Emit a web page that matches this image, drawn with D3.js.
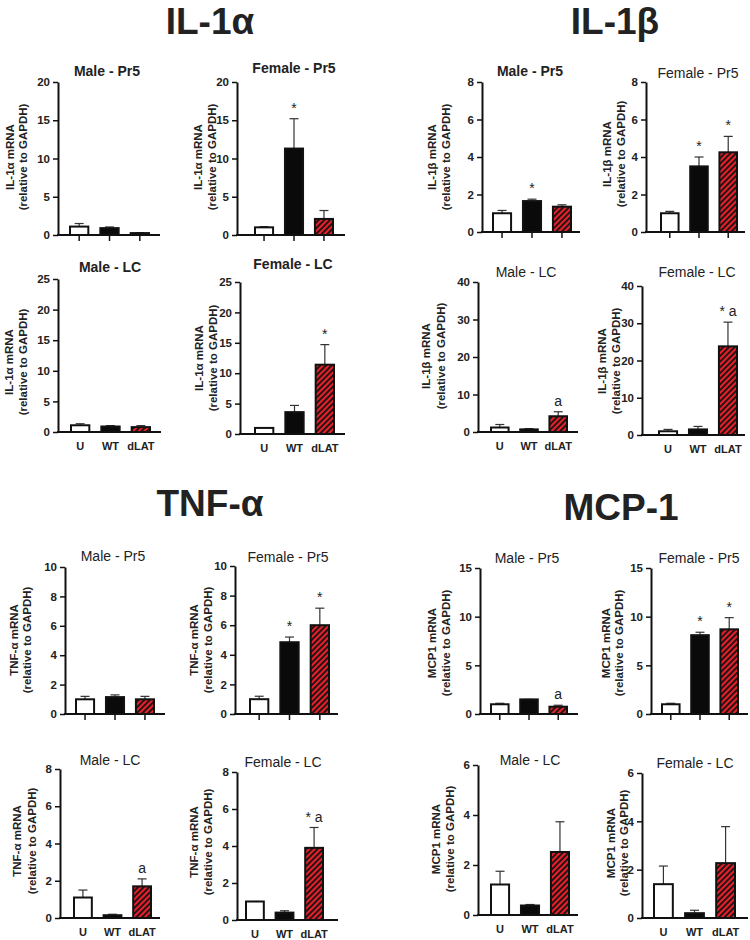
<!DOCTYPE html>
<html><head><meta charset="utf-8">
<script src="https://cdn.jsdelivr.net/npm/d3@7"></script>
<style>
html,body{margin:0;padding:0;background:#fff;}
svg{display:block;font-family:"Liberation Sans",Arial,Helvetica,sans-serif;}
</style></head>
<body>
<svg id="chart" width="750" height="940"></svg>
<script>
// ---------------- DATA ----------------
const groups = ["U", "WT", "dLAT"];
const panelTitles = ["Male - Pr5", "Female - Pr5", "Male - LC", "Female - LC"];
const cytokines = ["IL-1α", "IL-1β", "TNF-α", "MCP-1"];
const yLabels = ["IL-1α mRNA", "IL-1β mRNA", "TNF-α mRNA", "MCP1 mRNA"];
const yLabel2 = "(relative to GAPDH)";

// y-axis maxima and tick steps for each panel (Male-Pr5, Female-Pr5, Male-LC, Female-LC)
const il1aMax = [20, 20, 25, 25], il1aStep = [5, 5, 5, 5];
const il1bMax = [8, 8, 40, 40],   il1bStep = [2, 2, 10, 10];
const tnfMax  = [10, 10, 8, 8],   tnfStep  = [2, 2, 2, 2];
const mcpMax  = [15, 15, 6, 6],   mcpStep  = [5, 5, 2, 2];

// means (U, WT, dLAT) per panel
const il1aMean = [[1.1, 0.9, 0.25], [1.0, 11.3, 2.1], [1.1, 0.9, 0.8], [1.0, 3.6, 11.4]];
const il1bMean = [[1.0, 1.65, 1.35], [1.0, 3.5, 4.25], [1.2, 0.7, 4.2], [1.0, 1.5, 23.8]];
const tnfMean  = [[1.0, 1.15, 1.0], [1.0, 4.85, 6.0], [1.1, 0.15, 1.7], [1.0, 0.4, 3.9]];
const mcpMean  = [[1.0, 1.5, 0.75], [1.0, 8.1, 8.7], [1.22, 0.38, 2.52], [1.4, 0.2, 2.27]];

// top of error bars (mean + SEM)
const il1aErr = [[1.5, 1.05, 0.3], [1.1, 15.2, 3.2], [1.35, 1.05, 1.05], [1.05, 4.7, 14.7]];
const il1bErr = [[1.15, 1.75, 1.45], [1.1, 4.0, 5.1], [2.0, 0.9, 5.4], [1.5, 2.3, 30.3]];
const tnfErr  = [[1.2, 1.3, 1.2], [1.2, 5.2, 7.15], [1.5, 0.2, 2.1], [1.0, 0.5, 5.0]];
const mcpErr  = [[1.1, 1.5, 0.9], [1.1, 8.4, 9.9], [1.75, 0.42, 3.73], [2.15, 0.32, 3.78]];

// significance marks
const il1aMarks = [["", "", ""], ["", "*", ""], ["", "", ""], ["", "", "*"]];
const il1bMarks = [["", "*", ""], ["", "*", "*"], ["", "", "a"], ["", "", "* a"]];
const tnfMarks  = [["", "", ""], ["", "*", "*"], ["", "", "a"], ["", "", "* a"]];
const mcpMarks  = [["", "", "a"], ["", "*", "*"], ["", "", ""], ["", "", ""]];

// ---------------- LAYOUT ----------------
const headPos = [[210, 34], [615, 34], [210, 516], [621, 520]];
// ax: y-axis x, xe: x-axis end, bl/br: bars extent, y0/yt: y range, tx/ty: title, l1/l2/lc: y-label
const layout = [
  [{ax:58,xe:160,bl:69,br:150,y0:235,yt:82,tx:107,ty:76,l1:10,l2:23,lc:157,b:true},
   {ax:237,xe:345,bl:254,br:334,y0:235,yt:82,tx:294,ty:73,l1:198,l2:212,lc:157,b:true},
   {ax:58,xe:161,bl:70,br:151,y0:432,yt:279,tx:110,ty:272,l1:9,l2:23,lc:362,b:true},
   {ax:240,xe:345,bl:254,br:335,y0:434,yt:282,tx:293,ty:269,l1:199,l2:213,lc:358,b:true}],
  [{ax:482,xe:580,bl:492,br:572,y0:232,yt:82,tx:530,ty:76,l1:432,l2:446,lc:157,b:true},
   {ax:646,xe:745,bl:660,br:738,y0:232,yt:82,tx:698,ty:78,l1:607,l2:621,lc:154,b:false},
   {ax:478,xe:578,bl:490,br:568,y0:432,yt:282,tx:526,ty:277,l1:426,l2:441,lc:356,b:false},
   {ax:642,xe:745,bl:658,br:738,y0:435,yt:286,tx:697,ty:277,l1:602,l2:616,lc:361,b:false}],
  [{ax:65,xe:165,bl:75,br:155,y0:714,yt:567,tx:113,ty:561,l1:14,l2:27,lc:640,b:false},
   {ax:235,xe:338,bl:249,br:330,y0:714,yt:566,tx:288,ty:562,l1:194,l2:208,lc:640,b:false},
   {ax:60,xe:160,bl:73,br:152,y0:918,yt:769,tx:110,ty:765,l1:17,l2:32,lc:841,b:false},
   {ax:237,xe:338,bl:245,br:324,y0:920,yt:772,tx:283,ty:767,l1:194,l2:208,lc:842,b:false}],
  [{ax:480,xe:578,bl:490,br:568,y0:714,yt:568,tx:527,ty:563,l1:432,l2:446,lc:643,b:false},
   {ax:651,xe:748,bl:661,br:739,y0:714,yt:568,tx:699,ty:563,l1:606,l2:619,lc:643,b:false},
   {ax:478,xe:578,bl:490,br:570,y0:915,yt:765,tx:530,ty:765,l1:436,l2:450,lc:839,b:false},
   {ax:642,xe:748,bl:653,br:736,y0:918,yt:773,tx:695,ty:768,l1:611,l2:624,lc:843,b:false}]
];

const means = [il1aMean, il1bMean, tnfMean, mcpMean];
const errs = [il1aErr, il1bErr, tnfErr, mcpErr];
const marks = [il1aMarks, il1bMarks, tnfMarks, mcpMarks];
const maxes = [il1aMax, il1bMax, tnfMax, mcpMax];
const steps = [il1aStep, il1bStep, tnfStep, mcpStep];

const RED = "#e8202a";

const svg = d3.select("#chart");
const defs = svg.append("defs");
const pat = defs.append("pattern").attr("id", "hatch")
  .attr("patternUnits", "userSpaceOnUse").attr("width", 4).attr("height", 4)
  .attr("patternTransform", "rotate(45)");
pat.append("rect").attr("width", 4).attr("height", 4).attr("fill", RED);
pat.append("line").attr("x1", 0.9).attr("x2", 0.9).attr("y1", 0).attr("y2", 4)
  .attr("stroke", "#111").attr("stroke-width", 1.8);

const fills = ["#fff", "#0a0a0a", "url(#hatch)"];

// big headers
cytokines.forEach((c, i) => {
  svg.append("text").attr("x", headPos[i][0]).attr("y", headPos[i][1])
    .attr("text-anchor", "middle").attr("font-size", 37).attr("font-weight", "bold")
    .attr("fill", "#222").text(c);
});

cytokines.forEach((c, ci) => {
  panelTitles.forEach((pt, pi) => {
    const L = layout[ci][pi];
    const isLC = pi >= 2;
    const y = d3.scaleLinear().domain([0, maxes[ci][pi]]).range([L.y0, L.yt]);
    const x = d3.scaleBand().domain(groups).range([L.bl, L.br]).paddingInner(0.33).paddingOuter(0);
    const g = svg.append("g");

    // error bars (upward only)
    groups.forEach((grp, k) => {
      const m = means[ci][pi][k], e = errs[ci][pi][k];
      const cx = x(grp) + x.bandwidth() / 2;
      g.append("line").attr("x1", cx).attr("x2", cx).attr("y1", y(m)).attr("y2", y(e))
        .attr("stroke", "#333").attr("stroke-width", 1.2);
      g.append("line").attr("x1", cx - 4.5).attr("x2", cx + 4.5).attr("y1", y(e)).attr("y2", y(e))
        .attr("stroke", "#333").attr("stroke-width", 1.2);
    });

    // bars
    g.selectAll("rect.bar").data(groups).enter().append("rect").attr("class", "bar")
      .attr("x", d => x(d) + 1).attr("width", x.bandwidth() - 2)
      .attr("y", (d, k) => y(means[ci][pi][k]))
      .attr("height", (d, k) => L.y0 - y(means[ci][pi][k]))
      .attr("fill", (d, k) => fills[k]).attr("stroke", "#111").attr("stroke-width", 2);

    // significance marks
    groups.forEach((grp, k) => {
      const t = marks[ci][pi][k];
      if (!t) return;
      g.append("text").attr("x", x(grp) + x.bandwidth() / 2)
        .attr("y", y(errs[ci][pi][k]) - 6)
        .attr("text-anchor", "middle").attr("font-size", 14).attr("fill", "#222")
        .attr("xml:space", "preserve").text(t);
    });

    // y axis
    const ticks = d3.range(0, maxes[ci][pi] + steps[ci][pi] / 2, steps[ci][pi]);
    const ya = g.append("g").attr("transform", `translate(${L.ax},0)`)
      .call(d3.axisLeft(y).tickValues(ticks).tickFormat(d3.format("d"))
        .tickSize(5).tickSizeOuter(0).tickPadding(3));
    ya.select(".domain").attr("stroke", "#111").attr("stroke-width", 2);
    ya.selectAll(".tick line").attr("stroke", "#111").attr("stroke-width", 1.5);
    ya.selectAll(".tick text").attr("font-size", 11.5).attr("font-weight", "bold")
      .attr("fill", "#222").attr("font-family", "Liberation Sans, Arial, sans-serif");

    // x axis
    const xa = g.append("g").attr("transform", `translate(0,${L.y0})`);
    if (isLC) {
      xa.call(d3.axisBottom(x).tickSize(0).tickPadding(10));
      xa.selectAll(".tick text").attr("font-size", 11).attr("font-weight", "bold")
        .attr("fill", "#222").attr("font-family", "Liberation Sans, Arial, sans-serif");
    } else {
      xa.call(d3.axisBottom(x).tickSize(6).tickFormat(""));
      xa.selectAll(".tick line").attr("stroke", "#111").attr("stroke-width", 1.5);
    }
    xa.select(".domain").remove();
    g.append("line").attr("x1", L.ax - 1).attr("x2", L.xe).attr("y1", L.y0).attr("y2", L.y0)
      .attr("stroke", "#111").attr("stroke-width", 2);

    // panel title
    g.append("text").attr("x", L.tx).attr("y", L.ty).attr("text-anchor", "middle")
      .attr("font-size", 14).attr("font-weight", L.b ? "bold" : "normal")
      .attr("fill", "#222").text(pt);

    // y label
    g.append("text").attr("transform", `translate(${L.l1},${L.lc}) rotate(-90)`)
      .attr("text-anchor", "middle").attr("dominant-baseline", "central")
      .attr("font-size", 11.5).attr("font-weight", "bold").attr("fill", "#222").text(yLabels[ci]);
    g.append("text").attr("transform", `translate(${L.l2},${L.lc}) rotate(-90)`)
      .attr("text-anchor", "middle").attr("dominant-baseline", "central")
      .attr("font-size", 11.5).attr("font-weight", "bold").attr("fill", "#222").text(yLabel2);
  });
});
</script>
</body></html>
